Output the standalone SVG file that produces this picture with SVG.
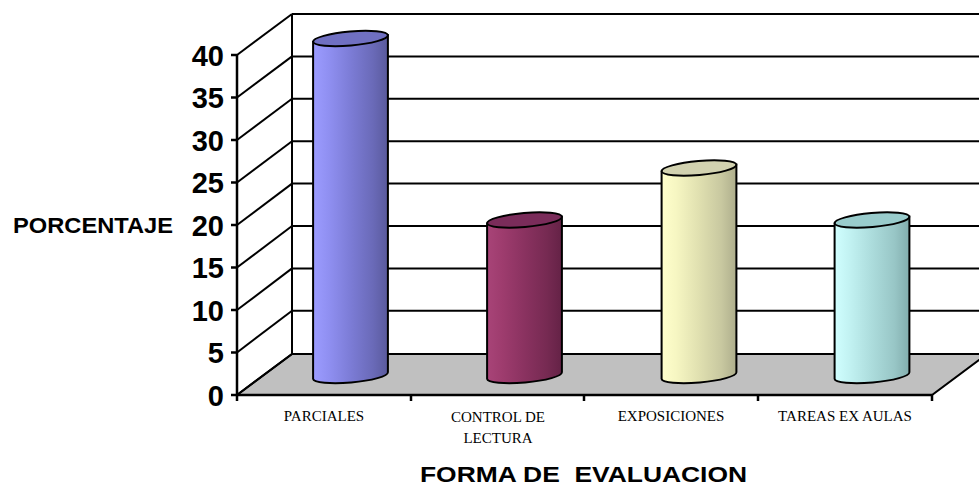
<svg xmlns="http://www.w3.org/2000/svg" width="979" height="487" viewBox="0 0 979 487">
<style>
.grid{stroke:#000;stroke-width:2;fill:none}
.axis{stroke:#000;stroke-width:2.5;fill:none}
.cyl{stroke:#000;stroke-width:2}
.ylab{font-family:"Liberation Sans",Arial,sans-serif;font-weight:bold;font-size:29px;text-anchor:end}
.xlab{font-family:"Liberation Serif","Times New Roman",serif;font-size:15px;text-anchor:middle}
.title{font-family:"Liberation Sans",Arial,sans-serif;font-weight:bold;font-size:22px}
</style>
<defs>
<linearGradient id="g1" x1="0" x2="1" y1="0" y2="0">
<stop offset="0" stop-color="#9c9cff"/><stop offset="0.2" stop-color="#9090f2"/><stop offset="0.5" stop-color="#7c7cd6"/><stop offset="0.8" stop-color="#6a6ab8"/><stop offset="1" stop-color="#5a5a9c"/>
</linearGradient>
<linearGradient id="g2" x1="0" x2="1" y1="0" y2="0">
<stop offset="0" stop-color="#a84478"/><stop offset="0.2" stop-color="#9e3c6e"/><stop offset="0.5" stop-color="#8a3260"/><stop offset="0.8" stop-color="#762a52"/><stop offset="1" stop-color="#642246"/>
</linearGradient>
<linearGradient id="g3" x1="0" x2="1" y1="0" y2="0">
<stop offset="0" stop-color="#ffffcc"/><stop offset="0.2" stop-color="#f6f6c2"/><stop offset="0.5" stop-color="#e0e0b0"/><stop offset="0.8" stop-color="#c8c8a0"/><stop offset="1" stop-color="#aeae8c"/>
</linearGradient>
<linearGradient id="g4" x1="0" x2="1" y1="0" y2="0">
<stop offset="0" stop-color="#d0ffff"/><stop offset="0.2" stop-color="#c2f2f2"/><stop offset="0.5" stop-color="#acdcdc"/><stop offset="0.8" stop-color="#98c6c6"/><stop offset="1" stop-color="#82adad"/>
</linearGradient>
</defs>
<rect width="979" height="487" fill="#fff"/>
<g id="chart-frame">
<polygon points="237,395 932,395 987,354 292,354" fill="#c0c0c0" stroke="#000" stroke-width="2"/>
<g class="grid">
<line x1="292" y1="14" x2="979" y2="14"/>
<line x1="292" y1="56.4" x2="979" y2="56.4"/>
<line x1="292" y1="98.8" x2="979" y2="98.8"/>
<line x1="292" y1="141.2" x2="979" y2="141.2"/>
<line x1="292" y1="183.6" x2="979" y2="183.6"/>
<line x1="292" y1="226" x2="979" y2="226"/>
<line x1="292" y1="268.4" x2="979" y2="268.4"/>
<line x1="292" y1="310.8" x2="979" y2="310.8"/>
<line x1="292" y1="14" x2="292" y2="354"/>
<line x1="237" y1="55" x2="292" y2="14"/>
<line x1="237" y1="97.5" x2="292" y2="56.4"/>
<line x1="237" y1="140" x2="292" y2="98.8"/>
<line x1="237" y1="182.5" x2="292" y2="141.2"/>
<line x1="237" y1="225" x2="292" y2="183.6"/>
<line x1="237" y1="267.5" x2="292" y2="226"/>
<line x1="237" y1="310" x2="292" y2="268.4"/>
<line x1="237" y1="352.5" x2="292" y2="310.8"/>
<line x1="237" y1="395" x2="292" y2="354"/>
</g>
<g class="axis">
<line x1="237" y1="55" x2="237" y2="401"/>
<line x1="237" y1="395" x2="932" y2="395"/>
<line x1="231" y1="55" x2="237" y2="55"/>
<line x1="231" y1="97.5" x2="237" y2="97.5"/>
<line x1="231" y1="140" x2="237" y2="140"/>
<line x1="231" y1="182.5" x2="237" y2="182.5"/>
<line x1="231" y1="225" x2="237" y2="225"/>
<line x1="231" y1="267.5" x2="237" y2="267.5"/>
<line x1="231" y1="310" x2="237" y2="310"/>
<line x1="231" y1="352.5" x2="237" y2="352.5"/>
<line x1="231" y1="395" x2="237" y2="395"/>
<line x1="411" y1="395" x2="411" y2="401"/>
<line x1="584" y1="395" x2="584" y2="401"/>
<line x1="758" y1="395" x2="758" y2="401"/>
<line x1="932" y1="395" x2="932" y2="401"/>
</g>
<g id="y-labels">
<text class="ylab" x="224" y="65.5">40</text>
<text class="ylab" x="224" y="108">35</text>
<text class="ylab" x="224" y="150.5">30</text>
<text class="ylab" x="224" y="193">25</text>
<text class="ylab" x="224" y="235.5">20</text>
<text class="ylab" x="224" y="278">15</text>
<text class="ylab" x="224" y="320.5">10</text>
<text class="ylab" x="224" y="363">5</text>
<text class="ylab" x="224" y="405.5">0</text>
</g>
</g>
<g id="bar-parciales">
<path class="cyl" fill="url(#g1)" d="M313.1,41.8 L313.1,378.8 A37.5,7 -5 0 0 387.9,372.2 L387.9,35.2 Z"/>
<ellipse class="cyl" fill="#7070c2" cx="350.5" cy="38.5" rx="37.5" ry="7" transform="rotate(-5 350.5 38.5)"/>
</g>
<g id="bar-control">
<path class="cyl" fill="url(#g2)" d="M487.1,223.3 L487.1,378.8 A37.5,7 -5 0 0 561.9,372.2 L561.9,216.7 Z"/>
<ellipse class="cyl" fill="#7a2c5a" cx="524.5" cy="220" rx="37.5" ry="7" transform="rotate(-5 524.5 220)"/>
</g>
<g id="bar-exposiciones">
<path class="cyl" fill="url(#g3)" d="M661.6,171.3 L661.6,378.8 A37.5,7 -5 0 0 736.4,372.2 L736.4,164.7 Z"/>
<ellipse class="cyl" fill="#d2d2b0" cx="699" cy="168" rx="37.5" ry="7" transform="rotate(-5 699 168)"/>
</g>
<g id="bar-tareas">
<path class="cyl" fill="url(#g4)" d="M834.6,223.3 L834.6,378.8 A37.5,7 -5 0 0 909.4,372.2 L909.4,216.7 Z"/>
<ellipse class="cyl" fill="#99cccc" cx="872" cy="220" rx="37.5" ry="7" transform="rotate(-5 872 220)"/>
</g>
<g id="x-labels">
<text class="xlab" x="324" y="421">PARCIALES</text>
<text class="xlab" x="498" y="421.5">CONTROL DE</text>
<text class="xlab" x="498" y="442.5">LECTURA</text>
<text class="xlab" x="671" y="421">EXPOSICIONES</text>
<text class="xlab" x="845" y="421">TAREAS EX AULAS</text>
</g>
<g id="axis-titles">
<text class="title" x="13" y="233" font-size="21" textLength="160" lengthAdjust="spacingAndGlyphs">PORCENTAJE</text>
<text class="title" x="420" y="482" textLength="327" lengthAdjust="spacingAndGlyphs" style="white-space:pre">FORMA DE  EVALUACION</text>
</g>
</svg>
